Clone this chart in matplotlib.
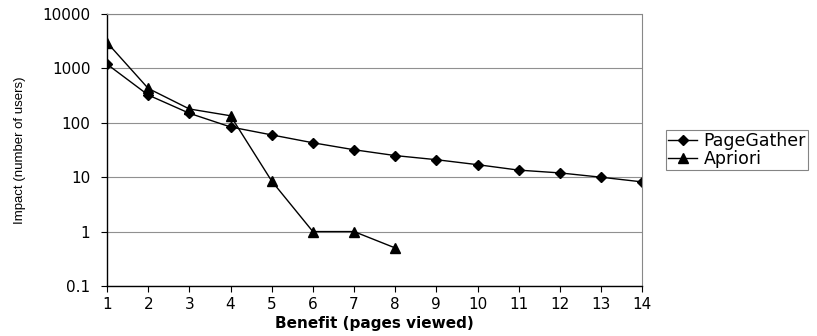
import matplotlib.pyplot as plt
from matplotlib.ticker import FixedLocator, NullLocator

plt.rcParams['font.family'] = ['DejaVu Sans']

# --- data ---
benefit = list(range(1, 15))
pagegather = [1200, 325, 150, 84, 60, 43, 32, 25, 21, 17, 13.5, 12, 10, 8.2]
apriori_x = [1, 2, 3, 4, 5, 6, 7, 8]
apriori = [3000, 430, 180, 135, 8.5, 1, 1, 0.5]
yticks = [0.1, 1, 10, 100, 1000, 10000]
ytick_labels = ["0.1", "1", "10", "100", "1000", "10000"]

fig = plt.figure(figsize=(8.17, 3.36), dpi=100)
ax = fig.add_axes([0.131, 0.149, 0.655, 0.809])

ax.plot(benefit, pagegather, color="black", lw=1.0, marker="D", ms=5,
        label="PageGather")
ax.plot(apriori_x, apriori, color="black", lw=1.0, marker="^", ms=7,
        label="Apriori")

ax.set_yscale("log")
ax.set_ylim(0.1, 10000)
ax.set_xlim(1, 14)
ax.yaxis.set_major_locator(FixedLocator(yticks))
ax.yaxis.set_minor_locator(NullLocator())
ax.set_yticklabels(ytick_labels)
ax.set_xticks(benefit)

ax.grid(axis="y", color="#909090", lw=0.8)
ax.set_axisbelow(True)
for side in ("top", "right"):
    ax.spines[side].set_color("#888888")
    ax.spines[side].set_linestyle((0, (1, 1)))
for side in ("left", "bottom"):
    ax.spines[side].set_color("black")
    ax.spines[side].set_linewidth(1.0)

ax.tick_params(axis="both", labelsize=11, direction="out", length=4, width=0.8)
ax.tick_params(axis="x", pad=4)
ax.tick_params(axis="y", pad=8)

ax.set_xlabel("Benefit (pages viewed)", fontsize=11, fontweight="bold", labelpad=3)
ax.set_ylabel("Impact (number of users)", fontsize=9.5,
              family=["Liberation Sans", "DejaVu Sans"], labelpad=12)

leg = ax.legend(loc="center left", bbox_to_anchor=(1.045, 0.5), fontsize=12.5,
                frameon=True, fancybox=False, handlelength=1.7, handletextpad=0.35,
                borderpad=0.1, labelspacing=0.0, borderaxespad=0)
leg.get_frame().set_edgecolor("#666666")
leg.get_frame().set_linewidth(0.8)

fig.savefig("out.png", dpi=100)
